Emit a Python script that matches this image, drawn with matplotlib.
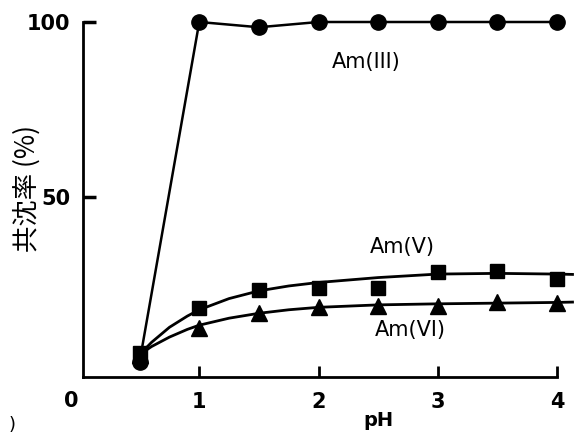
import numpy as np
import matplotlib.pyplot as plt

plt.rcParams['font.family'] = ['DejaVu Sans', 'Noto Sans CJK JP']

# measured points (pH, coprecipitation %)
ph = [0.5, 1.0, 1.5, 2.0, 2.5, 3.0, 3.5, 4.0]
am3 = [3, 100, 98.5, 100, 100, 100, 100, 100]
am5 = [5.5, 18.3, 23.4, 24, 24, 28.6, 29, 26.5]
am6 = [5, 12.6, 17, 18.6, 19, 19, 20, 19.7]

# hand-drawn fit curves
fit_ph = [0.5, 0.6, 0.75, 0.9, 1.0, 1.25, 1.5, 1.75, 2.0, 2.5, 3.0, 3.5, 4.0, 4.13]
fit5 = [5, 8.5, 12.8, 16.0, 17.8, 21.0, 23.2, 24.6, 25.6, 27.0, 28.0, 28.2, 28.0, 27.9]
fit6 = [5, 7.3, 10.0, 12.2, 13.4, 15.4, 16.8, 17.8, 18.5, 19.2, 19.5, 19.7, 19.9, 20.0]

fig = plt.figure(figsize=(5.76, 4.33), dpi=100)
ax = fig.add_axes([83/576, 1-377/433, (557-83)/576, (377-22)/433])

ax.plot(ph, am3, '-', color='black', lw=1.8, marker='o', ms=11, clip_on=False)
ax.plot(fit_ph, fit5, '-', color='black', lw=2.0, clip_on=False)
ax.plot(fit_ph, fit6, '-', color='black', lw=2.0, clip_on=False)
ax.plot(ph, am5, 's', color='black', ms=10, clip_on=False)
ax.plot(ph, am6, '^', color='black', ms=12, clip_on=False)

ax.set_xlim(0.025, 4.0)
ax.set_ylim(-1.4, 100)

for s in ['top', 'right']:
    ax.spines[s].set_visible(False)
for s in ['left', 'bottom']:
    ax.spines[s].set_linewidth(2)

ax.set_xticks([1, 2, 3, 4])
ax.set_xticklabels(['1', '2', '3', '4'])
ax.set_yticks([50, 100])
ax.tick_params(axis='x', direction='in', length=8, width=2, pad=11, labelsize=15)
ax.tick_params(axis='y', direction='in', length=9, width=2.5, pad=9, labelsize=15)
for t in ax.get_xticklabels() + ax.get_yticklabels():
    t.set_fontweight('bold')

ax.text(-0.07, -5.5, '0', fontsize=15, fontweight='bold', ha='center', va='top')
ax.set_xlabel('pH', fontsize=14, fontweight='bold')
ax.xaxis.set_label_coords((378-83)/474, -0.095)
ax.set_ylabel('共沈率 (%)', fontsize=19, family=['Noto Sans CJK JP', 'DejaVu Sans'])
ax.yaxis.set_label_coords(-0.09, 0.53)

ax.text(2.4, 88.6, 'Am(III)', fontsize=15, ha='center', va='center')
ax.text(2.7, 35.7, 'Am(V)', fontsize=15, ha='center', va='center')
ax.text(2.77, 12, 'Am(VI)', fontsize=15, ha='center', va='center')

fig.text(12/576, 1-425/433, ')', fontsize=13, ha='center', va='center')

fig.savefig('out.png', dpi=100)
